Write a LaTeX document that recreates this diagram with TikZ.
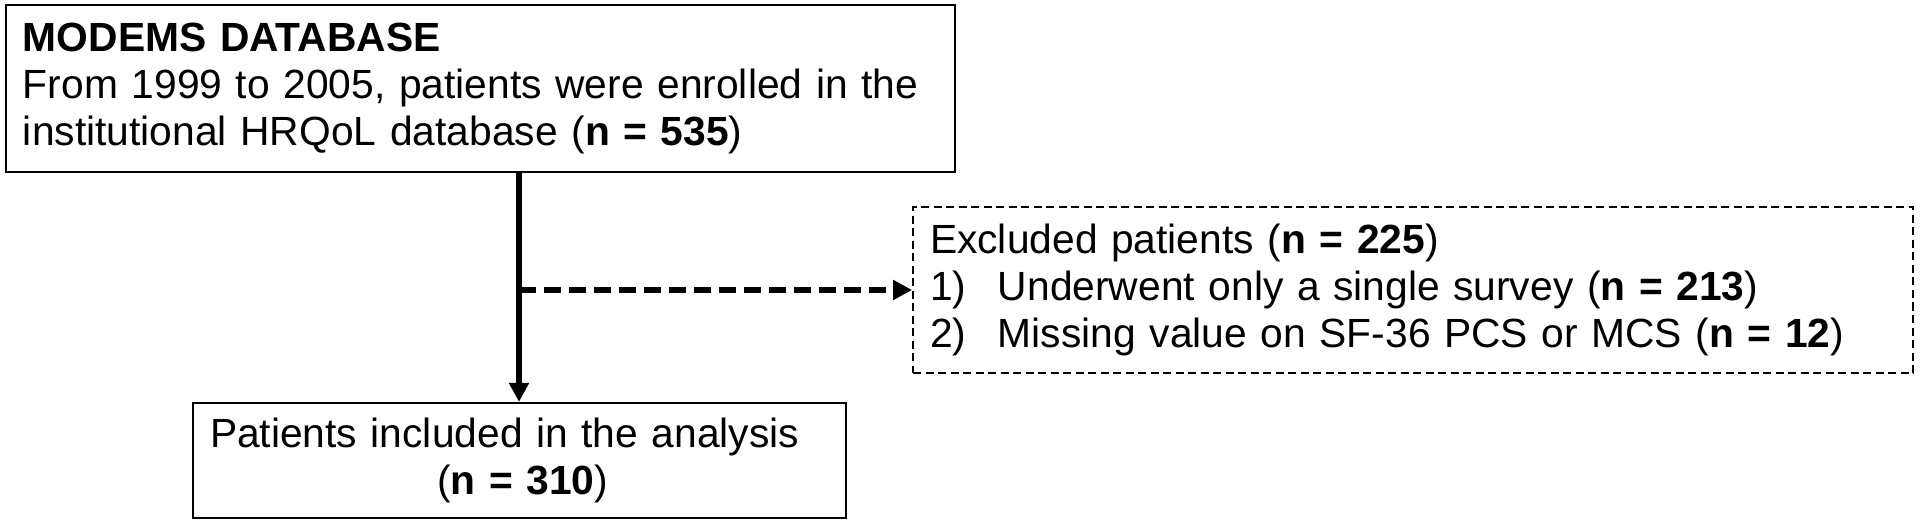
\documentclass[tikz,border=0pt]{standalone}
\usepackage{fontspec}
\setmainfont{Liberation Sans}
\usetikzlibrary{math,arrows.meta}

\newcommand{\numitem}[1]{\makebox[1.36cm][l]{#1}}

\begin{document}
\begin{tikzpicture}[
  box/.style={draw,line width=1.2pt,align=left,inner sep=0pt,
    font=\fontsize{23.2}{26.8}\selectfont},
  dashbox/.style={box,line width=1pt,dash pattern=on 0.16cm off 0.09cm},
  flow/.style={line width=3.3pt,-{Triangle[length=0.38cm,width=0.38cm]}},
  dashflow/.style={flow,dash pattern=on 0.34cm off 0.16cm}
]
  \tikzmath{
    real \sx,\sy;
    \sx=10.38;
    \sy=-5.8;
  }
  \useasboundingbox (0,0) rectangle (38.4,-10.52);
  \coordinate (split) at (\sx,\sy);

  \node[box,minimum width=18.98cm,minimum height=3.34cm,text width=18.3cm] (db) at (9.61,-1.77)
    {\textbf{MODEMS DATABASE}\\From 1999 to 2005, patients were enrolled in the\\institutional HRQoL database (\textbf{n = 535})};
  \node[dashbox,minimum width=20cm,minimum height=3.32cm,text width=19.32cm] (excl) at (28.26,-5.8)
    {Excluded patients (\textbf{n = 225})\\\numitem{1)}Underwent only a single survey (\textbf{n = 213})\\\numitem{2)}Missing value on SF-36 PCS or MCS (\textbf{n = 12})};
  \node[box,minimum width=13.06cm,minimum height=2.3cm,text width=12.38cm] (incl) at (10.39,-9.21)
    {Patients included in the analysis\\\hspace*{4.54cm}(\textbf{n = 310})};

  \draw[flow] (db.south -| split) -- (incl.north -| split);
  \draw[dashflow] (split) -- (excl.west |- split);
\end{tikzpicture}
\end{document}
